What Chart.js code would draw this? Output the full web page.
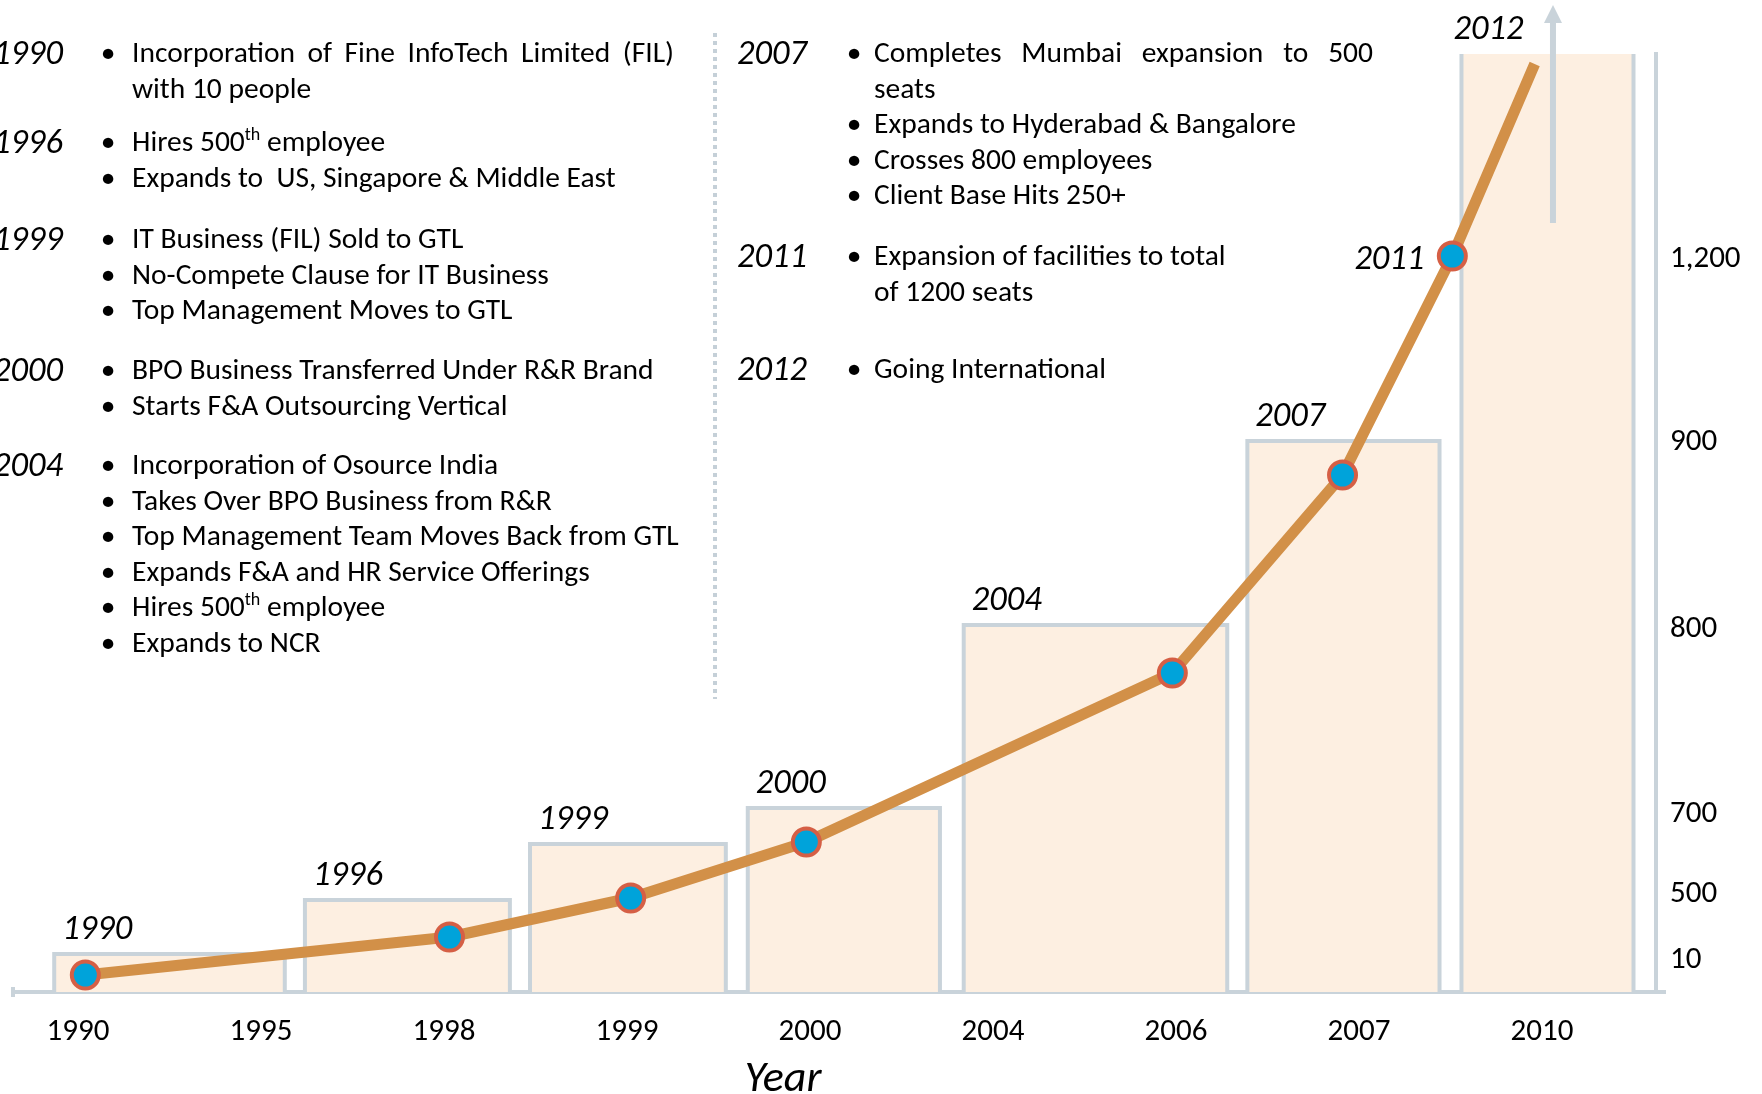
<!DOCTYPE html>
<html lang="en">
<head>
<meta charset="UTF-8">
<title>Growth Timeline</title>
<style>
    body { margin: 0; background: #fff; }
    #wrap { position: relative; width: 1762px; height: 1094px; overflow: hidden; font-family: Carlito, Calibri, Lato, sans-serif; color: #000; }
    #chart { position: absolute; left: 0; top: 0; }
    .note { position: absolute; font-size: 29.5px; line-height: 36px; white-space: nowrap; }
    .note sup { font-size: 18px; line-height: 0; vertical-align: 11px; }
    .just { text-align: justify; text-align-last: justify; white-space: normal; }
    .yr { position: absolute; width: 120px; text-align: right; font-size: 34.5px; font-style: italic; line-height: 36px; white-space: nowrap; }
    .bul { position: absolute; width: 20px; text-align: center; font-size: 29.5px; line-height: 36px; }
    .sep { position: absolute; left: 713px; top: 33px; width: 4px; height: 666px;
           background: repeating-linear-gradient(to bottom, #c5d0d8 0 4px, transparent 4px 8px); }
    #xtitle { position: absolute; left: 683px; width: 200px; top: 1051px; text-align: center; font-size: 44px; font-style: italic; line-height: 50px; }
</style>
</head>
<body>
<div id="wrap">
    <canvas id="chart" width="1762" height="1094"></canvas>
    <div class="sep"></div>
    <div id="xtitle">Year</div>
</div>

<script src="https://cdn.jsdelivr.net/npm/chart.js"></script>
<script>
    // x axis: evenly spaced year ticks (index positions 0..8)
    const xLabels = ['1990', '1995', '1998', '1999', '2000', '2004', '2006', '2007', '2010'];

    // right axis: level positions and the headcount printed at each
    const yTickLevels = [35, 101, 181, 366, 553, 736];
    const yTickLabels = ['10', '500', '700', '800', '900', '1,200'];

    // step bars (start / end on the x index scale, height in levels)
    const barYears = ['1990', '1996', '1999', '2000', '2004', '2007', '2012'];
    const barStart = [-0.13, 1.24, 2.47, 3.66, 4.84, 6.39, 7.56];
    const barEnd   = [1.13, 2.36, 3.54, 4.71, 6.28, 7.44, 8.50];
    const barLevel = [38, 92, 148, 184, 367, 551, 960];

    // growth line
    const lineX     = [0.04, 2.03, 3.02, 3.98, 5.98, 6.91, 7.51, 7.96];
    const lineLevel = [17, 55, 94, 150, 319, 517, 736, 928];
    const pointLabels = ['', '', '', '', '', '', '2011', ''];

    // upward arrow
    const arrowX = 8.06;
    const arrowFrom = 769;
    const arrowTo = 987;

    // milestone notes
    const leftNotes = [
        { year: '1990', y: 53, bullets: [{ lines: ['Incorporation of Fine InfoTech Limited (FIL)', 'with 10 people'], justify: true }] },
        { year: '1996', y: 142, bullets: [{ lines: ['Hires 500<sup>th</sup> employee'] }, { lines: ['Expands to&nbsp; US, Singapore &amp; Middle East'] }] },
        { year: '1999', y: 239, bullets: [{ lines: ['IT Business (FIL) Sold to GTL'] }, { lines: ['No-Compete Clause for IT Business'] }, { lines: ['Top Management Moves to GTL'] }] },
        { year: '2000', y: 370, bullets: [{ lines: ['BPO Business Transferred Under R&amp;R Brand'] }, { lines: ['Starts F&amp;A Outsourcing Vertical'] }] },
        { year: '2004', y: 465, bullets: [{ lines: ['Incorporation of Osource India'] }, { lines: ['Takes Over BPO Business from R&amp;R'] },
            { lines: ['Top Management Team Moves Back from GTL'] }, { lines: ['Expands F&amp;A and HR Service Offerings'] },
            { lines: ['Hires 500<sup>th</sup> employee'] }, { lines: ['Expands to NCR'] }] }
    ];
    const rightNotes = [
        { year: '2007', y: 53, bullets: [{ lines: ['Completes Mumbai expansion to 500', 'seats'], justify: true }, { lines: ['Expands to Hyderabad &amp; Bangalore'] },
            { lines: ['Crosses 800 employees'] }, { lines: ['Client Base Hits 250+'] }] },
        { year: '2011', y: 256, bullets: [{ lines: ['Expansion of facilities to total', 'of 1200 seats'] }] },
        { year: '2012', y: 369, bullets: [{ lines: ['Going International'] }] }
    ];

    const wrap = document.getElementById('wrap');
    const lineGap = 35.5;
    const fontFamily = 'Carlito, Calibri, Lato, sans-serif';

    function addDiv(cls, html, left, top, width) {
        const d = document.createElement('div');
        d.className = cls;
        d.innerHTML = html;
        d.style.left = left + 'px';
        d.style.top = top + 'px';
        if (width) d.style.width = width + 'px';
        wrap.appendChild(d);
    }

    function writeNotes(notes, col) {
        notes.forEach(block => {
            addDiv('yr', block.year, col.yearRight - 120, block.y - 19);
            let k = 0;
            block.bullets.forEach(b => {
                addDiv('bul', '&bull;', col.bullet - 10, block.y + k * lineGap - 19);
                b.lines.forEach((txt, j) => {
                    const t = block.y + k * lineGap - 19;
                    if (b.justify && j === 0) {
                        addDiv('note just', txt, col.text, t, col.right - col.text);
                    } else {
                        addDiv('note', txt, col.text, t);
                    }
                    k++;
                });
            });
        });
    }

    writeNotes(leftNotes, { yearRight: 63, bullet: 108, text: 132, right: 674 });
    writeNotes(rightNotes, { yearRight: 807, bullet: 854, text: 874, right: 1373 });

    const gridBlue = '#c9d3da';

    const datasets = [{
        type: 'line',
        data: lineX.map((x, i) => ({ x: x, y: lineLevel[i] })),
        borderColor: '#d29048',
        borderWidth: 11,
        borderJoinStyle: 'round',
        tension: 0,
        fill: false,
        pointRadius: lineX.map((_, i) => i < lineX.length - 1 ? 13.5 : 0),
        pointBackgroundColor: '#00a3da',
        pointBorderColor: '#d55f45',
        pointBorderWidth: 4,
        order: 0,
        clip: false
    }];

    barYears.forEach((yr, i) => {
        datasets.push({
            type: 'line',
            label: yr,
            data: [
                { x: barStart[i], y: 0 },
                { x: barStart[i], y: barLevel[i] },
                { x: barEnd[i], y: barLevel[i] },
                { x: barEnd[i], y: 0 }
            ],
            borderColor: gridBlue,
            borderWidth: 4,
            backgroundColor: '#fdefe1',
            fill: 'origin',
            pointRadius: 0,
            tension: 0,
            order: 1,
            clip: 0
        });
    });

    const extras = {
        id: 'extras',
        afterDatasetsDraw(chart) {
            const { ctx, chartArea } = chart;
            const x = chart.scales.x, y = chart.scales.y;
            ctx.save();
            ctx.fillStyle = '#000';
            ctx.font = 'italic 34.5px ' + fontFamily;
            ctx.textBaseline = 'alphabetic';
            ctx.textAlign = 'left';
            barYears.forEach((t, i) => {
                const topPx = y.getPixelForValue(barLevel[i]);
                const clipped = topPx < chartArea.top;
                const left = x.getPixelForValue(barStart[i]) + (clipped ? -8 : 8);
                ctx.fillText(t, left, Math.max(topPx, chartArea.top) - 15);
            });
            ctx.textAlign = 'right';
            pointLabels.forEach((t, i) => {
                if (!t) return;
                ctx.fillText(t, x.getPixelForValue(lineX[i]) - 28, y.getPixelForValue(lineLevel[i]) + 13);
            });

            // arrow
            const ax = x.getPixelForValue(arrowX);
            const y0 = y.getPixelForValue(arrowFrom);
            const y1 = y.getPixelForValue(arrowTo);
            ctx.strokeStyle = gridBlue;
            ctx.fillStyle = gridBlue;
            ctx.lineWidth = 6;
            ctx.beginPath();
            ctx.moveTo(ax, y0);
            ctx.lineTo(ax, y1 + 16);
            ctx.stroke();
            ctx.beginPath();
            ctx.moveTo(ax - 9, y1 + 18);
            ctx.lineTo(ax + 9, y1 + 18);
            ctx.lineTo(ax, y1);
            ctx.closePath();
            ctx.fill();

            // small end tick + baseline overhang
            ctx.lineWidth = 4;
            ctx.beginPath();
            ctx.moveTo(chartArea.left, chartArea.bottom - 5);
            ctx.lineTo(chartArea.left, chartArea.bottom + 5);
            ctx.moveTo(chartArea.right, chartArea.bottom);
            ctx.lineTo(chartArea.right + 10, chartArea.bottom);
            ctx.stroke();
            ctx.restore();
        }
    };

    new Chart(document.getElementById('chart'), {
        type: 'line',
        data: { datasets: datasets },
        options: {
            responsive: false,
            devicePixelRatio: 1,
            animation: false,
            layout: { autoPadding: false, padding: { left: 13, top: 54, right: 0, bottom: 0 } },
            plugins: { legend: { display: false }, tooltip: { enabled: false } },
            scales: {
                x: {
                    type: 'linear',
                    min: (13 - 78) / 183,
                    max: (1656 - 78) / 183,
                    afterFit(scale) { scale.height = 102; },
                    afterBuildTicks(scale) { scale.ticks = xLabels.map((_, i) => ({ value: i })); },
                    grid: { display: false },
                    border: { display: true, color: gridBlue, width: 4 },
                    ticks: {
                        autoSkip: false,
                        maxRotation: 0,
                        padding: 14,
                        color: '#000',
                        font: { family: fontFamily, size: 31 },
                        callback: (v) => xLabels[Math.round(v)] ?? ''
                    }
                },
                y: {
                    type: 'linear',
                    position: 'right',
                    min: 0,
                    max: 938,
                    afterFit(scale) { scale.width = 106; },
                    afterBuildTicks(scale) { scale.ticks = yTickLevels.map(v => ({ value: v })); },
                    grid: { display: false },
                    border: { display: true, color: gridBlue, width: 4 },
                    ticks: {
                        autoSkip: false,
                        padding: 6,
                        labelOffset: 3,
                        color: '#000',
                        font: { family: fontFamily, size: 31 },
                        callback: (v, i) => yTickLabels[i]
                    }
                }
            }
        },
        plugins: [extras]
    });
</script>
</body>
</html>
